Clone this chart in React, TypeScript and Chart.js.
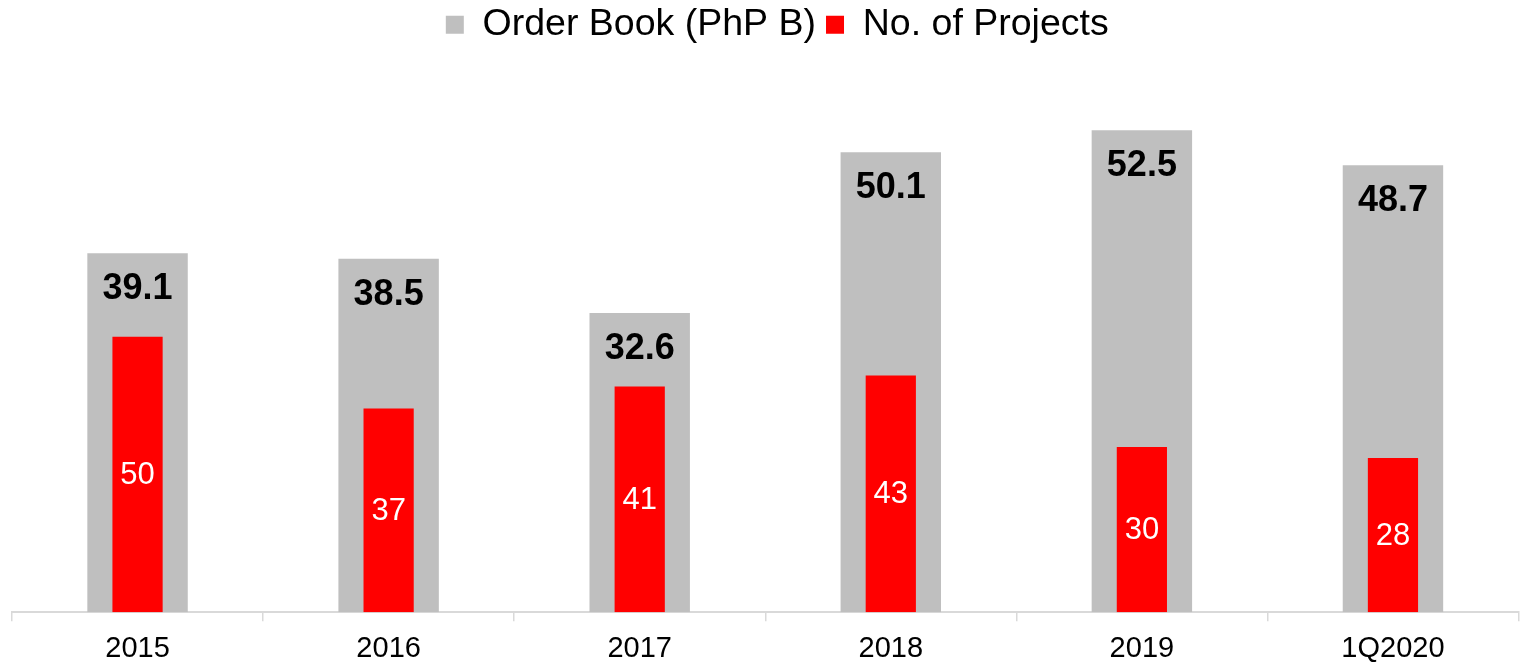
import React, { useEffect, useRef } from "react";
import { Chart, registerables } from "chart.js";

Chart.register(...registerables);

const categories = ["2015", "2016", "2017", "2018", "2019", "1Q2020"];
const orderBook = [39.1, 38.5, 32.6, 50.1, 52.5, 48.7];
const projects = [50, 37, 41, 43, 30, 28];
const seriesLabels = ["Order Book (PhP B)", "No. of Projects"];

const FONT = "'Liberation Sans', Arial, Helvetica, sans-serif";

const barLabels = {
  id: "barLabels",
  afterDatasetsDraw(chart: any) {
    const ctx = chart.ctx;
    const gray = chart.getDatasetMeta(0);
    const red = chart.getDatasetMeta(1);
    ctx.save();
    ctx.textAlign = "center";
    ctx.textBaseline = "middle";
    ctx.font = `bold 36px ${FONT}`;
    ctx.fillStyle = "#000000";
    gray.data.forEach((bar: any, i: number) => {
      ctx.fillText(orderBook[i].toFixed(1), bar.x, bar.y + 36);
    });
    ctx.font = `31px ${FONT}`;
    ctx.fillStyle = "#ffffff";
    red.data.forEach((bar: any, i: number) => {
      ctx.fillText(String(projects[i]), bar.x, (bar.y + bar.base) / 2 + 1);
    });
    ctx.restore();
  },
};

const legendSpacer = {
  id: "legendSpacer",
  beforeInit(chart: any) {
    const legend = chart.legend;
    if (!legend) return;
    const origFit = legend.fit;
    legend.fit = function () {
      origFit.call(this);
      this.height += 10;
    };
    const origDraw = legend.draw;
    legend.draw = function () {
      const ctx = this.ctx;
      ctx.save();
      ctx.translate(12, 2);
      origDraw.call(this);
      ctx.restore();
    };
  },
};

export default function App() {
  const ref = useRef<HTMLCanvasElement | null>(null);

  useEffect(() => {
    if (!ref.current) return;
    const chart = new Chart(ref.current, {
      type: "bar",
      data: {
        labels: categories,
        datasets: [
          {
            label: seriesLabels[0],
            data: orderBook,
            backgroundColor: "#bfbfbf",
            yAxisID: "y",
            barPercentage: 0.4,
            categoryPercentage: 1,
            grouped: false,
            order: 1,
          } as any,
          {
            label: seriesLabels[1],
            data: projects,
            backgroundColor: "#ff0000",
            yAxisID: "y1",
            barPercentage: 0.2,
            categoryPercentage: 1,
            grouped: false,
            order: 0,
          } as any,
        ],
      },
      options: {
        animation: false,
        responsive: true,
        maintainAspectRatio: false,
        layout: { padding: { left: 12, right: 1.5, top: 0, bottom: 0 } },
        plugins: {
          legend: {
            position: "top",
            labels: {
              boxWidth: 18,
              boxHeight: 18,
              padding: 10,
              color: "#000000",
              font: { family: FONT, size: 37.5 },
              sort: (a: any, b: any) => a.datasetIndex - b.datasetIndex,
            },
          },
          tooltip: { enabled: false },
        },
        scales: {
          x: {
            grid: {
              display: true,
              drawOnChartArea: false,
              drawTicks: true,
              tickLength: 9,
              color: "#d9d9d9",
              lineWidth: 1.5,
            },
            border: { display: true, color: "#d9d9d9", width: 2 },
            ticks: {
              color: "#000000",
              padding: 10,
              font: { family: FONT, size: 29 },
            },
          },
          y: { display: false, min: 0, max: 60 },
          y1: { display: false, min: 0, max: 100 },
        },
      },
      plugins: [barLabels, legendSpacer],
    });
    return () => chart.destroy();
  }, []);

  return (
    <div style={{ position: "fixed", left: 0, top: 0, width: 1520, height: 663, overflow: "hidden" }}>
      <div style={{ position: "absolute", left: 0, top: -6, width: 1520, height: 682 }}>
        <canvas ref={ref} />
      </div>
    </div>
  );
}
